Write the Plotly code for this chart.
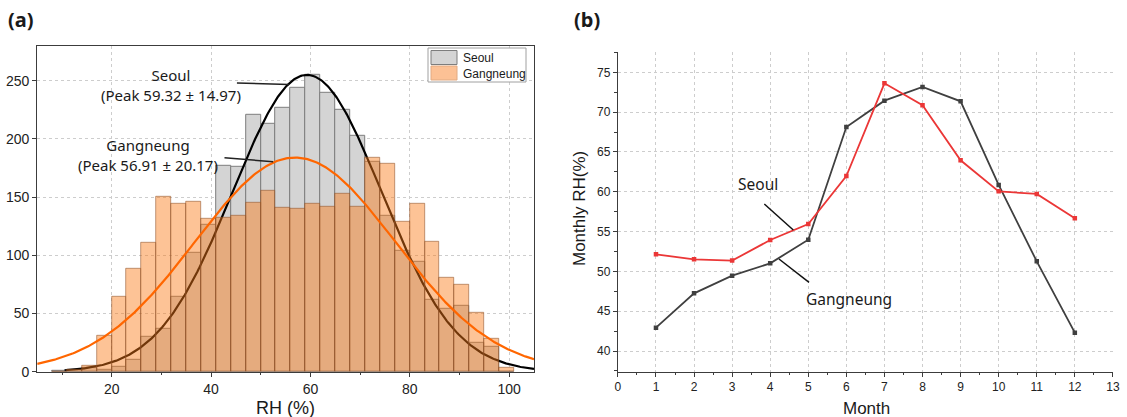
import numpy as np
import plotly.graph_objects as go

# ---------------- Panel (a): RH histograms ----------------
bin_centers = [9.5, 12.5, 15.5, 18.5, 21.5, 24.5, 27.5, 30.5, 33.5, 36.5, 39.5,
               42.5, 45.5, 48.5, 51.5, 54.5, 57.5, 60.5, 63.5, 66.5, 69.5,
               72.5, 75.5, 78.5, 81.5, 84.5, 87.5, 90.5, 93.5, 96.5, 99.5]
bin_width = 3
seoul_counts = [1, 2, 3, 2, 4, 10, 30, 37, 64, 102, 126,
                177, 176, 221, 213, 227, 244, 255, 240, 225, 203,
                180, 134, 104, 94, 62, 54, 57, 25, 21, 0]
gangneung_counts = [0, 2, 5, 31, 64, 88, 111, 150, 144, 146, 131,
                    132, 134, 145, 155, 141, 140, 144, 142, 153, 142,
                    184, 179, 129, 144, 112, 81, 75, 51, 28, 3]

# Gaussian fits (centre, sigma, peak height)
seoul_fit = [59.32, 14.97, 255]
gangneung_fit = [56.91, 20.17, 184]
seoul_fit_range = [10.5, 105]
gangneung_fit_range = [5, 105]

# ---------------- Panel (b): monthly RH ----------------
months = [1, 2, 3, 4, 5, 6, 7, 8, 9, 10, 11, 12]
seoul_monthly = [52.14, 51.51, 51.35, 53.94, 55.95, 61.98, 73.62, 70.86, 63.95, 60.05, 59.72, 56.66]
gangneung_monthly = [42.93, 47.24, 49.46, 51.01, 53.98, 68.13, 71.44, 73.16, 71.36, 60.85, 51.26, 42.30]

legend_names = ["Seoul", "Gangneung"]


def gauss_curve(fit, xr):
    xs = np.linspace(xr[0], xr[1], 400)
    c, s, a = fit
    return xs, a * np.exp(-(xs - c) ** 2 / (2 * s ** 2))


W, H = 1127, 417
def fx(p): return p / W
def fy(p): return 1 - p / H

ARIAL = "Liberation Sans, Arial, sans-serif"
LABEL = "Noto Sans, sans-serif"

GRAY_FILL = "rgb(212,212,212)"
GRAY_LINE = "rgb(125,125,125)"
ORANGE_FILL = "rgba(250,122,22,0.45)"
ORANGE_LINE = "rgba(140,80,40,0.55)"

fig = go.Figure()

# gray Seoul bars + black Seoul fit (base subplot)
fig.add_trace(go.Bar(x=bin_centers, y=seoul_counts, width=bin_width, name=legend_names[0],
                     marker=dict(color=GRAY_FILL, line=dict(color=GRAY_LINE, width=1)),
                     xaxis="x", yaxis="y"))
sx, sy = gauss_curve(seoul_fit, seoul_fit_range)
fig.add_trace(go.Scatter(x=sx, y=sy, mode="lines", line=dict(color="black", width=2.2),
                         hoverinfo="skip", xaxis="x", yaxis="y"))

# orange Gangneung bars + orange fit (overlay subplot, drawn above)
fig.add_trace(go.Bar(x=bin_centers, y=gangneung_counts, width=bin_width, name=legend_names[1],
                     marker=dict(color=ORANGE_FILL, line=dict(color=ORANGE_LINE, width=1)),
                     xaxis="x3", yaxis="y3"))
gx, gy = gauss_curve(gangneung_fit, gangneung_fit_range)
fig.add_trace(go.Scatter(x=gx, y=gy, mode="lines", line=dict(color="rgb(255,102,0)", width=2.2),
                         hoverinfo="skip", xaxis="x3", yaxis="y3"))

# panel (b) lines
fig.add_trace(go.Scatter(x=months, y=gangneung_monthly, mode="lines+markers", name="Gangneung",
                         line=dict(color="rgb(64,64,64)", width=1.8),
                         marker=dict(symbol="square", size=4.5, color="rgb(64,64,64)"),
                         xaxis="x2", yaxis="y2"))
fig.add_trace(go.Scatter(x=months, y=seoul_monthly, mode="lines+markers", name="Seoul",
                         line=dict(color="rgb(235,55,55)", width=1.8),
                         marker=dict(symbol="square", size=4.5, color="rgb(235,55,55)"),
                         xaxis="x2", yaxis="y2"))

grid_col = "rgb(205,205,205)"
axis_col = "rgb(60,60,60)"

fig.update_layout(
    width=W, height=H, margin=dict(l=0, r=0, t=0, b=0, autoexpand=False),
    paper_bgcolor="white", plot_bgcolor="white",
    barmode="overlay", bargap=0, showlegend=False,
    font=dict(family=ARIAL, color="#222"),
    xaxis=dict(domain=[fx(37.2), fx(534)], range=[5, 105], tickvals=[20, 40, 60, 80, 100],
               ticks="outside", ticklen=4, tickcolor=axis_col,
               minor=dict(ticks="outside", tickvals=[10, 30, 50, 70, 90], ticklen=2.5, tickcolor=axis_col),
               showgrid=True, gridcolor=grid_col, griddash="dot", zeroline=False,
               showline=True, linecolor=axis_col, linewidth=1, mirror=True,
               tickfont=dict(size=14, family=ARIAL, color="#222"), anchor="y"),
    yaxis=dict(domain=[fy(371.7), fy(45.8)], range=[0, 280], tickvals=[0, 50, 100, 150, 200, 250],
               ticks="outside", ticklen=4, tickcolor=axis_col,
               showgrid=True, gridcolor=grid_col, griddash="dot", zeroline=False,
               showline=True, linecolor=axis_col, linewidth=1, mirror=True,
               tickfont=dict(size=14, family=ARIAL, color="#222"), anchor="x"),
    xaxis3=dict(overlaying="x", range=[5, 105], visible=False, anchor="y3"),
    yaxis3=dict(overlaying="y", range=[0, 280], visible=False, anchor="x3"),
    xaxis2=dict(domain=[fx(617.9), fx(1112.9)], range=[0, 13], dtick=1, tick0=0,
                ticks="outside", ticklen=4, tickcolor=axis_col,
                minor=dict(ticks="outside", dtick=0.5, ticklen=2.5, tickcolor=axis_col),
                showgrid=True, gridcolor=grid_col, griddash="dot", zeroline=False,
                showline=True, linecolor=axis_col, linewidth=1.2,
                tickfont=dict(size=12, family=ARIAL, color="#222"), anchor="y2"),
    yaxis2=dict(domain=[fy(371.7), fy(52)], range=[37.4, 77.55], tickvals=[40, 45, 50, 55, 60, 65, 70, 75],
                ticks="outside", ticklen=4, tickcolor=axis_col,
                minor=dict(ticks="outside", dtick=2.5, tick0=40, ticklen=2.5, tickcolor=axis_col),
                showgrid=True, gridcolor=grid_col, griddash="dot", zeroline=False,
                showline=True, linecolor=axis_col, linewidth=1.2,
                tickfont=dict(size=12, family=ARIAL, color="#222"), anchor="x2"),
)

ann = []
def txt(x, y, s, size=15.5, xref="x", yref="y", family=LABEL, xanchor="center", **kw):
    ann.append(dict(x=x, y=y, xref=xref, yref=yref, text=s, showarrow=False,
                    xanchor=xanchor, yanchor="middle", align="center",
                    font=dict(size=size, family=family, color="#1a1a1a"), **kw))

# panel labels
txt(fx(21), fy(19), "<b>(a)</b>", size=20, xref="paper", yref="paper")
txt(fx(587), fy(19), "<b>(b)</b>", size=20, xref="paper", yref="paper")
# panel (a) fit labels (two centred lines each)
txt(31.9, 246.2, "Seoul<br>(Peak 59.32 ± 14.97)", size=15)
txt(27.35, 185.9, "Gangneung<br>(Peak 56.91 ± 20.17)", size=15)
# panel (b) labels
txt(3.67, 60.97, "Seoul", xref="x2", yref="y2")
txt(6.08, 46.55, "Gangneung", xref="x2", yref="y2")
# axis titles
txt(fx(285.6), fy(408), "RH (%)", size=18, xref="paper", yref="paper", family=ARIAL)
txt(fx(866), fy(408), "Month", size=17, xref="paper", yref="paper", family=ARIAL)
txt(fx(579), fy(209), "Monthly RH(%)", size=17, xref="paper", yref="paper", family=ARIAL, textangle=-90)
# legend texts
txt(fx(461), fy(57.5), legend_names[0], size=12, xref="paper", yref="paper", family=ARIAL, xanchor="left")
txt(fx(461), fy(73.5), legend_names[1], size=12, xref="paper", yref="paper", family=ARIAL, xanchor="left")
fig.update_layout(annotations=ann)

shapes = [
    dict(type="line", xref="x", yref="y", x0=45.2, y0=248, x1=55.7, y1=246.8,
         line=dict(color="#222", width=1.5)),
    dict(type="line", xref="x", yref="y", x0=42.7, y0=183.8, x1=52.5, y1=180.4,
         line=dict(color="#222", width=1.5)),
    dict(type="line", xref="x2", yref="y2", x0=3.845, y0=58.46, x1=4.606, y1=55.19,
         line=dict(color="#111", width=1.5)),
    dict(type="line", xref="x2", yref="y2", x0=4.23, y0=51.55, x1=5.02, y1=48.62,
         line=dict(color="#111", width=1.5)),
    # legend box and swatches
    dict(type="rect", xref="paper", yref="paper", x0=fx(428), x1=fx(526), y0=fy(82), y1=fy(48),
         fillcolor="white", line=dict(color="rgb(160,160,160)", width=1), layer="above"),
    dict(type="rect", xref="paper", yref="paper", x0=fx(431), x1=fx(457), y0=fy(64.5), y1=fy(50.5),
         fillcolor=GRAY_FILL, line=dict(color=GRAY_LINE, width=1), layer="above"),
    dict(type="rect", xref="paper", yref="paper", x0=fx(431), x1=fx(457), y0=fy(80), y1=fy(66),
         fillcolor="rgb(252,193,149)", line=dict(color="rgb(225,170,130)", width=1), layer="above"),
]
fig.update_layout(shapes=shapes)

fig.write_html("out.html", config={"displayModeBar": False},
               post_script="document.body.style.margin='0';document.body.style.padding='0';")
